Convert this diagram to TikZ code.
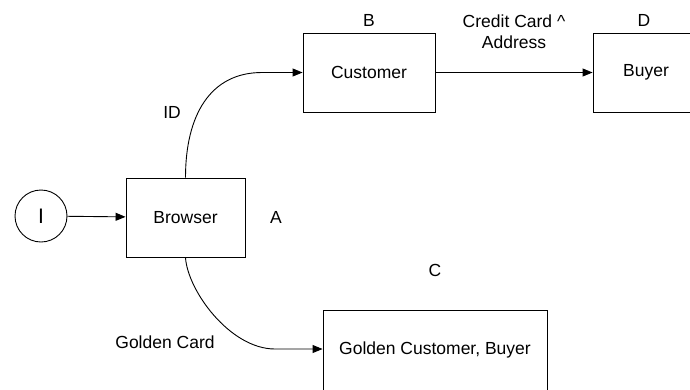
\documentclass[tikz,border=0pt]{standalone}
\usepackage{fontspec}
\setmainfont{Liberation Sans}
\usetikzlibrary{arrows.meta}
\begin{document}
\begin{tikzpicture}[x=1pt,y=-1pt,line width=.9pt,
    font=\fontsize{17.5}{20}\selectfont,
    box/.style={draw,minimum height=79pt,inner sep=0pt},
    arr/.style={-{Triangle[length=10pt,width=8pt]}}]
    \useasboundingbox(0,0)rectangle(690,389);
    \clip(0,0)rectangle(690,389);
    \node[draw,circle,minimum size=52pt,inner sep=0pt,font=\fontsize{21}{24}\selectfont](start)at(41,216){I};
    \node[box,minimum width=119pt](browser)at(185.5,217.5){Browser};
    \node[box,minimum width=132pt](customer)at(369,72.5){Customer};
    \node[box,minimum width=106pt](buyer)at(646,72.5){Buyer};
    \node[box,minimum width=224pt,minimum height=80pt](golden)at(435,350){Golden Customer, Buyer};
    % letters
    \node(lblA)at(276,217){A};
    \node(lblB)at(369,20){B};
    \node(lblC)at(435,270){C};
    \node(lblD)at(644,20){D};
    % arrows
    \coordinate(idbend)at(262,72.5);
    \coordinate(goldbend)at(275,349);
    \draw[arr](start)--(browser);
    \draw[arr](browser.north)..controls +(0,-62) and +(-52,0)..(idbend)--(customer.west);
    \draw[arr](browser.south)..controls +(2,33) and +(-45,0)..(goldbend)--(golden.west|-goldbend);
    \draw[arr](customer)--(buyer);
    \node(lblID)at(172,112){ID};
    \node(lblGold)at(165,342){Golden Card};
    \node[align=center,font=\fontsize{17.5}{21}\selectfont](lblCC)at(514,32){Credit Card \^{}\\Address};
\end{tikzpicture}
\end{document}
